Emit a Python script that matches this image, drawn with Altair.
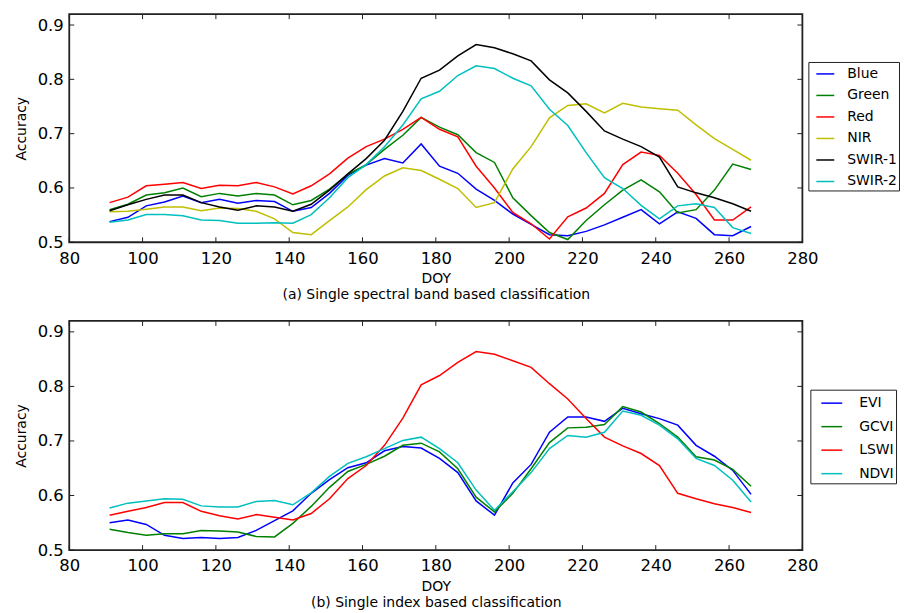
import altair as alt
import pandas as pd

DOY = [91, 96, 101, 106, 111, 116, 121, 126, 131, 136, 141, 146, 151, 156, 161, 166, 171, 176,
       181, 186, 191, 196, 201, 206, 211, 216, 221, 226, 231, 236, 241, 246, 251, 256, 261, 266]

# (a) single spectral bands
blue = [0.538, 0.546, 0.567, 0.574, 0.585, 0.573, 0.579, 0.572, 0.577, 0.575, 0.557, 0.564,
        0.590, 0.623, 0.642, 0.654, 0.646, 0.681, 0.640, 0.627, 0.598, 0.577, 0.552, 0.533,
        0.514, 0.512, 0.520, 0.532, 0.546, 0.560, 0.534, 0.556, 0.544, 0.514, 0.512, 0.529]
green = [0.560, 0.570, 0.587, 0.591, 0.600, 0.584, 0.590, 0.585, 0.590, 0.587, 0.569, 0.577,
         0.598, 0.625, 0.643, 0.671, 0.697, 0.730, 0.712, 0.698, 0.665, 0.647, 0.582, 0.549,
         0.518, 0.505, 0.540, 0.569, 0.596, 0.615, 0.593, 0.554, 0.560, 0.596, 0.644, 0.634]
red = [0.573, 0.583, 0.604, 0.607, 0.610, 0.599, 0.605, 0.604, 0.610, 0.602, 0.589, 0.604,
       0.626, 0.655, 0.676, 0.690, 0.708, 0.730, 0.708, 0.694, 0.640, 0.600, 0.555, 0.534,
       0.506, 0.547, 0.563, 0.590, 0.643, 0.666, 0.660, 0.627, 0.588, 0.541, 0.541, 0.565]
nir = [0.556, 0.557, 0.561, 0.565, 0.565, 0.558, 0.563, 0.562, 0.557, 0.543, 0.518, 0.514,
       0.540, 0.565, 0.597, 0.622, 0.637, 0.632, 0.616, 0.599, 0.564, 0.573, 0.635, 0.676,
       0.729, 0.752, 0.755, 0.738, 0.756, 0.749, 0.746, 0.743, 0.716, 0.691, 0.671, 0.651]
swir1 = [0.558, 0.569, 0.579, 0.587, 0.587, 0.573, 0.565, 0.559, 0.567, 0.565, 0.557, 0.570,
         0.596, 0.626, 0.654, 0.688, 0.741, 0.802, 0.817, 0.843, 0.864, 0.858, 0.847, 0.834,
         0.799, 0.775, 0.741, 0.705, 0.690, 0.676, 0.657, 0.602, 0.591, 0.582, 0.571, 0.557]
swir2 = [0.537, 0.541, 0.551, 0.551, 0.549, 0.541, 0.540, 0.535, 0.535, 0.536, 0.535, 0.551,
         0.582, 0.619, 0.643, 0.676, 0.716, 0.764, 0.778, 0.807, 0.825, 0.820, 0.802, 0.788,
         0.745, 0.715, 0.665, 0.619, 0.599, 0.568, 0.543, 0.567, 0.571, 0.564, 0.527, 0.516]

# (b) single indices
evi = [0.550, 0.555, 0.547, 0.527, 0.521, 0.523, 0.521, 0.523, 0.536, 0.554, 0.572, 0.604,
       0.629, 0.651, 0.660, 0.682, 0.690, 0.687, 0.668, 0.642, 0.590, 0.564, 0.623, 0.657,
       0.716, 0.744, 0.744, 0.736, 0.760, 0.750, 0.741, 0.729, 0.692, 0.672, 0.646, 0.602]
gcvi = [0.538, 0.532, 0.527, 0.530, 0.530, 0.536, 0.535, 0.533, 0.525, 0.524, 0.549, 0.580,
        0.615, 0.644, 0.657, 0.672, 0.692, 0.696, 0.680, 0.649, 0.597, 0.570, 0.604, 0.649,
        0.697, 0.724, 0.725, 0.730, 0.763, 0.753, 0.732, 0.707, 0.671, 0.665, 0.648, 0.617]
lswi = [0.564, 0.571, 0.578, 0.587, 0.587, 0.571, 0.563, 0.557, 0.565, 0.560, 0.555, 0.567,
        0.594, 0.631, 0.655, 0.692, 0.742, 0.803, 0.820, 0.844, 0.864, 0.859, 0.847, 0.835,
        0.805, 0.777, 0.741, 0.707, 0.691, 0.677, 0.655, 0.604, 0.594, 0.585, 0.578, 0.569]
ndvi = [0.577, 0.586, 0.590, 0.594, 0.593, 0.581, 0.579, 0.579, 0.589, 0.591, 0.583, 0.605,
        0.635, 0.659, 0.671, 0.686, 0.701, 0.707, 0.686, 0.660, 0.610, 0.573, 0.607, 0.642,
        0.686, 0.710, 0.707, 0.716, 0.755, 0.747, 0.729, 0.704, 0.668, 0.655, 0.628, 0.588]

names_a = ["Blue", "Green", "Red", "NIR", "SWIR-1", "SWIR-2"]
series_a = [blue, green, red, nir, swir1, swir2]
colors_a = ["#0000ff", "#008000", "#ff0000", "#bfbf00", "#000000", "#00bfbf"]

names_b = ["EVI", "GCVI", "LSWI", "NDVI"]
series_b = [evi, gcvi, lswi, ndvi]
colors_b = ["#0000ff", "#008000", "#ff0000", "#00bfbf"]

x_ticks = [80, 100, 120, 140, 160, 180, 200, 220, 240, 260, 280]
y_ticks = [0.5, 0.6, 0.7, 0.8, 0.9]

caption_a = "(a) Single spectral band based classification"
caption_b = "(b) Single index based classification"


def make_df(names, series):
    rows = []
    for i, (n, vals) in enumerate(zip(names, series)):
        for d, v in zip(DOY, vals):
            rows.append({"DOY": d, "Accuracy": v, "Series": n, "k": i})
    return pd.DataFrame(rows)


W = 736
TICK = 5
TICK_COLOR = "#222"
XS = alt.Scale(domain=[80, 280], nice=False, zero=False)
YS = alt.Scale(domain=[0.5, 0.92], nice=False, zero=False)
xt_df = pd.DataFrame({"DOY": x_ticks})
yt_df = pd.DataFrame({"Accuracy": y_ticks})


def panel(names, series, colors, caption, h, leg):
    df = make_df(names, series)
    lines = alt.Chart(df).mark_line(strokeWidth=1.5).encode(
        x=alt.X("DOY:Q", scale=XS,
                axis=alt.Axis(values=x_ticks, ticks=False, domain=False, labelFlush=False,
                              labelOverlap=False, labelPadding=8, title=["DOY", caption],
                              titlePadding=5, titleLineHeight=16)),
        y=alt.Y("Accuracy:Q", scale=YS,
                axis=alt.Axis(values=y_ticks, ticks=False, domain=False, format=".1f",
                              labelPadding=6, labelOverlap=False, title="Accuracy",
                              titlePadding=9)),
        color=alt.Color("Series:N",
                        scale=alt.Scale(domain=names, range=colors),
                        legend=alt.Legend(orient="none", legendX=leg["x"], legendY=leg["y"],
                                          title=None, symbolType="stroke",
                                          symbolSize=leg["sym"] ** 2,
                                          symbolStrokeWidth=1.5, labelFontSize=14,
                                          labelOffset=leg["lo"], symbolOffset=leg["so"],
                                          padding=2, rowPadding=4.6, strokeColor="#222",
                                          fillColor="white", labelColor="black")),
        order=alt.Order("k:Q"),
    )
    xt = alt.Chart(xt_df)
    yt = alt.Chart(yt_df)
    ticks_bottom = xt.mark_rule(color=TICK_COLOR, strokeWidth=1).encode(
        x=alt.X("DOY:Q", scale=XS), y=alt.value(h - TICK), y2=alt.value(h))
    ticks_top = xt.mark_rule(color=TICK_COLOR, strokeWidth=1).encode(
        x=alt.X("DOY:Q", scale=XS), y=alt.value(0), y2=alt.value(TICK))
    ticks_left = yt.mark_rule(color=TICK_COLOR, strokeWidth=1).encode(
        y=alt.Y("Accuracy:Q", scale=YS), x=alt.value(0), x2=alt.value(TICK))
    ticks_right = yt.mark_rule(color=TICK_COLOR, strokeWidth=1).encode(
        y=alt.Y("Accuracy:Q", scale=YS), x=alt.value(W - TICK), x2=alt.value(W))
    return (alt.layer(ticks_bottom, ticks_top, ticks_left, ticks_right, lines)
            .properties(width=W, height=h))


top = panel(names_a, series_a, colors_a, caption_a, 229,
            {"x": 742, "y": 48, "sym": 18, "lo": 12, "so": 5})
bottom = panel(names_b, series_b, colors_b, caption_b, 230,
               {"x": 744, "y": 69, "sym": 21, "lo": 16, "so": 8})

chart = (alt.vconcat(top, bottom, spacing=16)
         .resolve_scale(color="independent")
         .properties(padding={"left": 4.5, "top": 3, "right": 0, "bottom": 0})
         .configure(font="DejaVu Sans")
         .configure_view(stroke="#222", strokeWidth=1.8)
         .configure_axis(labelFontSize=16.5, titleFontSize=14, titleFontWeight="normal",
                         labelColor="black", titleColor="black", grid=False,
                         labelFont="DejaVu Sans", titleFont="DejaVu Sans"))

chart.save("out.html", embed_options={"renderer": "svg", "actions": False})
